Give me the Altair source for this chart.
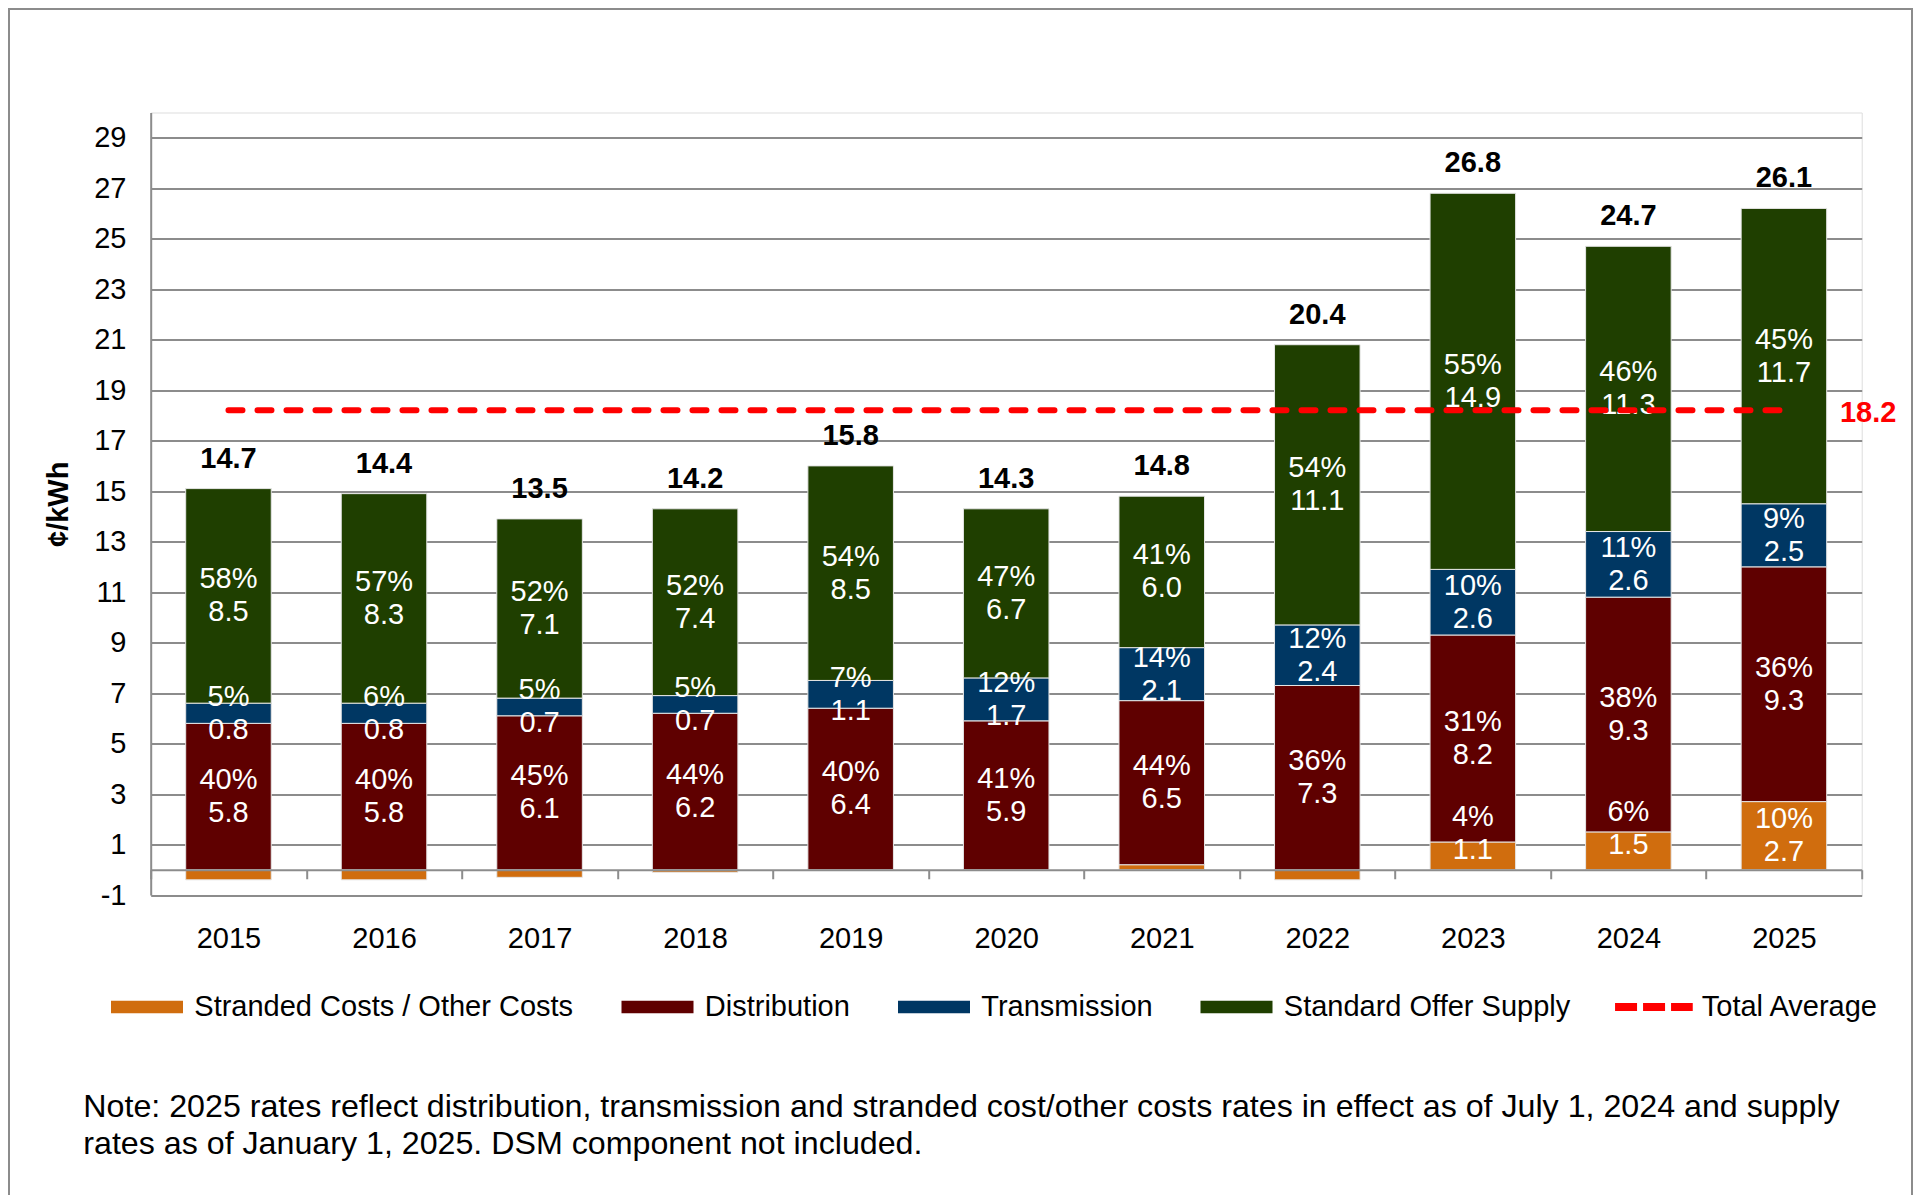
import altair as alt
import pandas as pd

# ---------------- data ----------------
years = ["2015", "2016", "2017", "2018", "2019", "2020", "2021", "2022", "2023", "2024", "2025"]
series_names = ["Stranded Costs / Other Costs", "Distribution", "Transmission", "Standard Offer Supply"]
series_colors = ["#D06D0E", "#5F0000", "#003763", "#1F3F00"]

stranded = [-0.4, -0.4, -0.3, -0.1, 0.0, 0.0, 0.2, -0.4, 1.1, 1.5, 2.7]
distribution = [5.8, 5.8, 6.1, 6.2, 6.4, 5.9, 6.5, 7.3, 8.2, 9.3, 9.3]
transmission = [0.8, 0.8, 0.7, 0.7, 1.1, 1.7, 2.1, 2.4, 2.6, 2.6, 2.5]
supply = [8.5, 8.3, 7.1, 7.4, 8.5, 6.7, 6.0, 11.1, 14.9, 11.3, 11.7]

stranded_pct = [None, None, None, None, None, None, None, None, 4, 6, 10]
distribution_pct = [40, 40, 45, 44, 40, 41, 44, 36, 31, 38, 36]
transmission_pct = [5, 6, 5, 5, 7, 12, 14, 12, 10, 11, 9]
supply_pct = [58, 57, 52, 52, 54, 47, 41, 54, 55, 46, 45]

totals = [14.7, 14.4, 13.5, 14.2, 15.8, 14.3, 14.8, 20.4, 26.8, 24.7, 26.1]
total_average = 18.2
avg_name = "Total Average"

y_ticks = list(range(-1, 30, 2))
y_domain = [-1, 30]

note_text = ("Note: 2025 rates reflect distribution, transmission and stranded cost/other costs rates in effect as of July 1, 2024 and supply\n"
             "rates as of January 1, 2025. DSM component not included.")

# ---------------- build tables ----------------
values = [stranded, distribution, transmission, supply]
pcts = [stranded_pct, distribution_pct, transmission_pct, supply_pct]

bar_rows, label_rows, total_rows = [], [], []
for i, yr in enumerate(years):
    pos, neg = 0.0, 0.0
    for s, name in enumerate(series_names):
        v = values[s][i]
        if v == 0:
            continue
        if v > 0:
            y0, y1 = pos, pos + v
            pos = y1
        else:
            y0, y1 = neg, neg + v
            neg = y1
        bar_rows.append({"year": yr, "series": name, "y0": y0, "y1": y1})
        p = pcts[s][i]
        if p is not None:
            mid = (y0 + y1) / 2
            if s == 0 and (y1 - y0) < 2:
                mid += 0.9  # bottom label lifted clear of the axis
            label_rows.append({"year": yr, "ymid": mid, "txt": f"{p}%\n{v:.1f}"})
    total_rows.append({"year": yr, "top": pos, "txt": f"{totals[i]:.1f}"})

bars_df = pd.DataFrame(bar_rows)
labels_df = pd.DataFrame(label_rows)
totals_df = pd.DataFrame(total_rows)
avg_df = pd.DataFrame({"year": [years[0], years[-1]], "avg": [total_average] * 2, "name": [avg_name] * 2})
avg_lbl_df = pd.DataFrame({"year": [years[-1]], "avg": [total_average], "txt": [f"{total_average:.1f}"]})
note_df = pd.DataFrame({"txt": [note_text]})
frame_df = pd.DataFrame({"k": [0]})

FONT = "Liberation Sans"
GRID = "#8C8C8C"
PX_PER_UNIT = 782.5 / 31.0

x_enc = alt.X(
    "year:N",
    sort=years,
    scale=alt.Scale(paddingInner=0, paddingOuter=0),
    axis=alt.Axis(
        title=None, labelAngle=0, labelFontSize=29, labelColor="#000000", labelFont=FONT,
        labelBaseline="middle", labelPadding=59.7,
        domainColor=GRID, domainWidth=2, tickColor=GRID, tickWidth=2, tickSize=9,
        tickBand="extent", offset=-PX_PER_UNIT, zindex=1,
    ),
)
y_scale = alt.Scale(domain=y_domain, nice=False, zero=False)

bars = alt.Chart(bars_df).mark_bar(
    width=alt.RelativeBandSize(0.55), stroke="#E6E6E6", strokeWidth=1
).encode(
    x=x_enc,
    y=alt.Y(
        "y0:Q", scale=y_scale,
        axis=alt.Axis(
            values=y_ticks, title="¢/kWh", titleFontSize=29, titleFont=FONT, titleFontWeight="bold",
            titleColor="#000000", titleX=-92, titleY=391.25, titleAngle=270, titleAlign="center",
            titleBaseline="middle", labelExpr="'' + datum.value",
            labelFontSize=29, labelFont=FONT, labelColor="#000000", labelPadding=24.7,
            ticks=False, domainColor=GRID, domainWidth=2, gridColor=GRID, gridWidth=2,
        ),
    ),
    y2="y1:Q",
    color=alt.Color(
        "series:N",
        scale=alt.Scale(domain=series_names, range=series_colors),
        legend=alt.Legend(
            title=None, orient="none", direction="horizontal", legendX=-39.7, legendY=858.5,
            symbolType="M-1,-0.171H1V0.171H-1Z", symbolSize=5184, symbolStrokeWidth=0,
            labelFontSize=29, labelFont=FONT, labelColor="#000000", labelOffset=11.3,
            labelLimit=0, columnPadding=47.5, padding=0, labelBaseline="middle",
        ),
    ),
)

seg_labels = alt.Chart(labels_df).mark_text(
    color="#FFFFFF", fontSize=29, font=FONT, lineBreak="\n", lineHeight=33, baseline="middle",
    align="center", dy=-16.5
).encode(x=alt.X("year:N", sort=years), y=alt.Y("ymid:Q"), text="txt:N")

total_labels = alt.Chart(totals_df).mark_text(
    color="#000000", fontSize=29, font=FONT, fontWeight="bold", baseline="alphabetic", align="center", dy=-21
).encode(x=alt.X("year:N", sort=years), y=alt.Y("top:Q"), text="txt:N")

avg_line = alt.Chart(avg_df).mark_line(
    strokeDash=[14, 15], strokeCap="round", strokeWidth=6
).encode(
    x=alt.X("year:N", sort=years),
    y=alt.Y("avg:Q"),
    color=alt.Color(
        "name:N",
        scale=alt.Scale(domain=[avg_name], range=["#FF0000"]),
        legend=alt.Legend(
            title=None, orient="none", legendX=1460.2, legendY=851.5,
            symbolType="M-1,0H1", symbolSize=6037, symbolStrokeWidth=8, symbolDash=[22, 6],
            labelFontSize=29, labelFont=FONT, labelColor="#000000", labelOffset=4.85,
            labelLimit=0, padding=0, labelBaseline="middle",
        ),
    ),
)

avg_label = alt.Chart(avg_lbl_df).mark_text(
    color="#FF0000", fontSize=29, font=FONT, fontWeight="bold", align="left", baseline="middle", dx=56, dy=2.6
).encode(x=alt.X("year:N", sort=years), y=alt.Y("avg:Q"), text="txt:N")

note = alt.Chart(note_df).mark_text(
    color="#000000", fontSize=32.2, font=FONT, lineBreak="\n", lineHeight=37,
    align="left", baseline="alphabetic", clip=False
).encode(x=alt.value(-67.4), y=alt.value(1004.5), text="txt:N")

frame = alt.Chart(frame_df).mark_rect(
    fillOpacity=0, stroke="#8C8C8C", strokeWidth=2, clip=False
).encode(x=alt.value(-141.7), x2=alt.value(1761.3), y=alt.value(-103.5), y2=alt.value(1120))

chart = alt.layer(
    bars, seg_labels, total_labels, avg_line, avg_label, note, frame
).resolve_scale(
    color="independent"
).properties(
    width=1711, height=782.5,
    autosize=alt.AutoSizeParams(type="none"),
    padding={"left": 142.7, "top": 104.5, "right": 51.3, "bottom": 300},
    background="#FFFFFF",
).configure_view(stroke=None).configure(font=FONT)

chart.save("out.html", embed_options={"renderer": "svg", "actions": False})
